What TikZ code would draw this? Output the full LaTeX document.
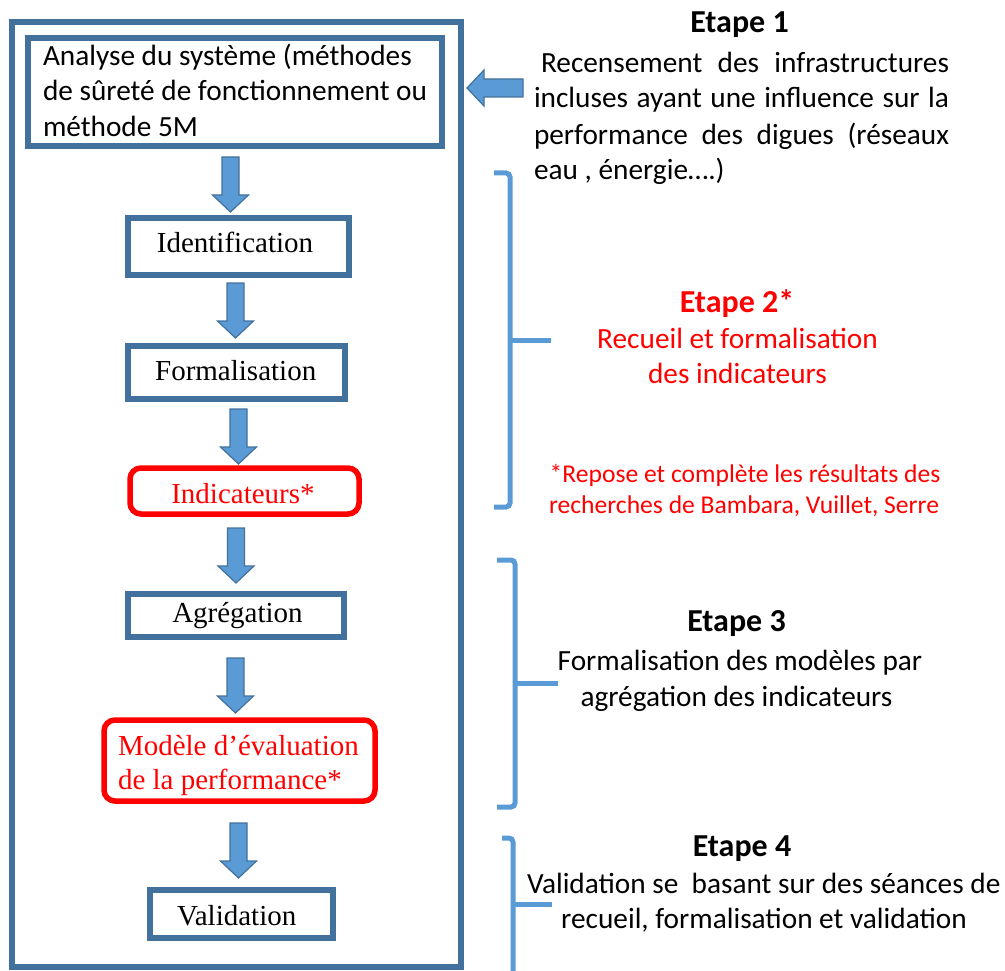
\documentclass[tikz,border=0pt]{standalone}
\usepackage{fontspec}
\setmainfont{Carlito}
\newfontfamily\tnr{Liberation Serif}
\usetikzlibrary{calc}
\definecolor{boxblue}{HTML}{41719C}
\definecolor{fillblue}{HTML}{5B9BD5}
\definecolor{myred}{HTML}{FF0000}
\newcommand{\blockarrow}[2]{%
  \draw[arrowstyle] ($(#1)+(-8.5,0)$) -- ($(#1)+(8.5,0)$) -- ($(#2)+(8.5,-17)$) -- ($(#2)+(18,-17)$) -- (#2) -- ($(#2)+(-18,-17)$) -- ($(#2)+(-8.5,-17)$) -- cycle;}
\begin{document}
\begin{tikzpicture}[x=1pt,y=-1pt,
  bluebox/.style={draw=boxblue, line width=5.5pt, inner sep=0pt, outer sep=0pt, fill=white},
  redbox/.style={draw=myred, line width=5.5pt, rounded corners=11pt, inner sep=0pt, outer sep=0pt, fill=white},
  arrowstyle/.style={fill=fillblue, draw=boxblue, line width=1.2pt, line join=miter},
  bracketline/.style={draw=fillblue, line width=5pt, rounded corners=4pt},
  lab/.style={inner sep=0pt, outer sep=0pt, anchor=base},
  labw/.style={inner sep=0pt, outer sep=0pt, anchor=base west},
  sanstxt/.style={font=\fontsize{29.3}{36}\selectfont},
  smalltxt/.style={font=\fontsize{25.6}{31}\selectfont},
  seriftxt/.style={font=\tnr\fontsize{29}{35}\selectfont},
  headtxt/.style={font=\fontsize{32}{38}\selectfont\bfseries},
]
\useasboundingbox (0,0) rectangle (1005,971);

% outer frame
\node[bluebox, fill=none, minimum width=449pt, minimum height=945pt] (frame) at (236.5,494.5) {};

% boxes
\node[bluebox, minimum width=414pt, minimum height=108pt] (ana) at (235,92) {};
\node[bluebox, minimum width=221pt, minimum height=57pt] (ide) at (238.5,246.5) {};
\node[bluebox, minimum width=217pt, minimum height=53pt] (form) at (236.5,372.5) {};
\node[redbox, minimum width=229pt, minimum height=46pt] (ind) at (244.5,491) {};
\node[bluebox, minimum width=216pt, minimum height=43pt] (agr) at (236,615.5) {};
\node[redbox, minimum width=271pt, minimum height=81pt] (mod) at (239.5,760.5) {};
\node[bluebox, minimum width=183pt, minimum height=48pt] (val) at (241.5,914) {};

% box texts
\node[labw, sanstxt] (ana1) at (43,66) {Analyse du système (méthodes};
\node[labw, sanstxt] (ana2) at (43,101) {de sûreté de fonctionnement ou};
\node[labw, sanstxt] (ana3) at (43,137) {méthode 5M};
\node[lab, seriftxt] (idet) at (235,252) {Identification};
\node[lab, seriftxt] (formt) at (235.7,380) {Formalisation};
\node[lab, seriftxt, text=myred] (indt) at (243,503) {Indicateurs*};
\node[lab, seriftxt] (agrt) at (237.5,622) {Agrégation};
\node[labw, seriftxt, text=myred] (mod1) at (118,755) {Modèle d’évaluation};
\node[labw, seriftxt, text=myred] (mod2) at (118,789) {de la performance*};
\node[lab, seriftxt] (valt) at (236.7,925) {Validation};

% down arrows
\coordinate (a1s) at (230.5,157); \coordinate (a1e) at (230.5,212);
\coordinate (a2s) at (235.5,283); \coordinate (a2e) at (235.5,338);
\coordinate (a3s) at (238.5,409); \coordinate (a3e) at (238.5,464);
\coordinate (a4s) at (236,528);   \coordinate (a4e) at (236,583);
\coordinate (a5s) at (235.5,658); \coordinate (a5e) at (235.5,713);
\coordinate (a6s) at (238.5,823); \coordinate (a6e) at (238.5,878);
\blockarrow{a1s}{a1e}
\blockarrow{a2s}{a2e}
\blockarrow{a3s}{a3e}
\blockarrow{a4s}{a4e}
\blockarrow{a5s}{a5e}
\blockarrow{a6s}{a6e}

% left-pointing arrow
\coordinate (las) at (523,88); \coordinate (lae) at (467,88);
\draw[arrowstyle] ($(las)+(0,-9)$) -- ($(las)+(0,9)$) -- ($(lae)+(17,9)$) -- ($(lae)+(17,18)$) -- (lae) -- ($(lae)+(17,-18)$) -- ($(lae)+(17,-9)$) -- cycle;

% brackets
\coordinate (b2t) at (494,173); \coordinate (b2b) at (494,507); \coordinate (b2m) at (551,340);
\draw[bracketline] (b2t) -- (510,173) -- (510,507) -- (b2b);
\draw[draw=fillblue, line width=5pt] (510,340) -- (b2m);
\coordinate (b3t) at (497,560); \coordinate (b3b) at (497,807); \coordinate (b3m) at (558,683);
\draw[bracketline] (b3t) -- (515,560) -- (515,807) -- (b3b);
\draw[draw=fillblue, line width=5pt] (515,683) -- (b3m);
\coordinate (b4t) at (502,838); \coordinate (b4b) at (513,976); \coordinate (b4m) at (552,904);
\draw[bracketline] (b4t) -- (513,838) -- (b4b);
\draw[draw=fillblue, line width=5pt] (513,904) -- (b4m);

% Etape 1
\node[lab, headtxt] (e1h) at (739.5,33) {Etape 1};
\node[labw, sanstxt] (e1a) at (534,73) {\makebox[415pt][s]{\hspace*{7pt}Recensement des infrastructures}};
\node[labw, sanstxt] (e1b) at (534,108) {\makebox[415pt][s]{incluses ayant une influence sur la}};
\node[labw, sanstxt] (e1c) at (534,145) {\makebox[415pt][s]{performance des digues (réseaux}};
\node[labw, sanstxt] (e1d) at (534,180) {eau , énergie….)};

% Etape 2
\node[lab, headtxt, text=myred] (e2h) at (737,312) {Etape 2*};
\node[lab, sanstxt, text=myred] (e2a) at (737.5,348) {Recueil et formalisation};
\node[lab, sanstxt, text=myred] (e2b) at (737.5,383) {des indicateurs};
\node[lab, smalltxt, text=myred] (e2c) at (745,482) {*Repose et complète les résultats des};
\node[lab, smalltxt, text=myred] (e2d) at (744,513) {recherches de Bambara, Vuillet, Serre};

% Etape 3
\node[lab, headtxt] (e3h) at (736.5,631) {Etape 3};
\node[lab, sanstxt] (e3a) at (740,670) {Formalisation des modèles par};
\node[lab, sanstxt] (e3b) at (736.5,706) {agrégation des indicateurs};

% Etape 4
\node[lab, headtxt] (e4h) at (742,856) {Etape 4};
\node[labw, sanstxt] (e4a) at (527,893) {Validation se\ \ basant sur des séances de};
\node[lab, sanstxt] (e4b) at (764,928) {recueil, formalisation et validation};
\end{tikzpicture}
\end{document}
